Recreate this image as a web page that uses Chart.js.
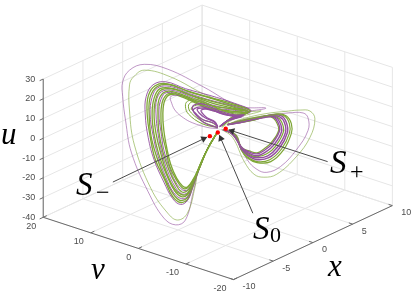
<!DOCTYPE html>
<html>
<head>
<meta charset="utf-8">
<title>Attractor</title>
<script src="https://cdn.jsdelivr.net/npm/chart.js@4"></script>
<style>
html, body { margin: 0; padding: 0; background: #fff; }
canvas { display: block; }
</style>
</head>
<body>
<canvas id="chartCanvas" width="415" height="297"></canvas>
<script>
// axis ticks of the 3D box
var xTicks = [-10, -5, 0, 5, 10];
var vTicks = [-20, -10, 0, 10, 20];
var uTicks = [-40, -30, -20, -10, 0, 10, 20, 30];

// equilibria as [x, v, u]
var equilibria = [[-1, 0, 0], [0, 0, 0], [1, 0, 0]];

// trajectory strands, as [h, w] in the view plane (origin at S0)
var purpleLeftOuter = [[-1,0],[-11,-18],[-20,-40],[-25,-61],[-33,-90],[-43,-95],[-55,-88],[-71,-61],[-88,-21],[-94,12],[-97,37],[-97,52],[-90,64],[-75,70],[-51,65],[-15,47],[22,27],[49,25],[22,19],[4,7]];
var greenLeftOuter = [[-1,0],[-11,-18],[-20,-38],[-23,-55],[-31,-83],[-41,-90],[-51,-83],[-68,-58],[-85,-13],[-90,22],[-90,49],[-86,57],[-75,64],[-48,57],[-11,38],[32,22],[44,22],[17,14],[4,5]];

var purpleLeftBand = [
  [[0,1],[-11,-18],[-20,-40],[-26,-58],[-31,-70],[-38,-74],[-46,-68],[-55,-51],[-65,-28],[-71,-5],[-74,19],[-73,37],[-66,49],[-53,52],[-33,45],[-8,38],[17,30],[34,22],[17,16],[4,7]],
  [[0,1],[-11,-18],[-20,-39],[-26,-55],[-31,-66],[-37,-68],[-45,-62],[-53,-46],[-61,-24],[-66,-3],[-69,19],[-67,36],[-61,46],[-47,47],[-29,40],[-7,33],[16,27],[32,21],[16,16],[4,7]],
  [[0,1],[-11,-18],[-19,-38],[-25,-52],[-31,-62],[-37,-63],[-44,-55],[-51,-40],[-57,-21],[-61,-1],[-63,19],[-62,35],[-55,43],[-41,42],[-24,35],[-5,28],[15,24],[30,21],[15,15],[4,7]],
  [[0,1],[-11,-18],[-19,-37],[-25,-50],[-31,-59],[-36,-59],[-43,-51],[-49,-37],[-55,-18],[-58,1],[-60,19],[-58,34],[-52,41],[-37,38],[-21,31],[-4,25],[15,23],[28,20],[14,15],[4,7]]
];
var greenLeftBand = [
  [[0,1],[-11,-18],[-20,-40],[-26,-57],[-31,-69],[-38,-72],[-46,-66],[-54,-49],[-64,-27],[-69,-4],[-72,19],[-71,37],[-64,48],[-51,50],[-32,43],[-8,36],[17,29],[33,22],[17,16],[4,7]],
  [[0,1],[-11,-18],[-20,-39],[-26,-56],[-31,-67],[-38,-70],[-45,-64],[-54,-47],[-62,-26],[-68,-4],[-70,19],[-69,36],[-62,47],[-49,49],[-30,42],[-7,35],[16,28],[33,22],[16,16],[4,7]],
  [[0,1],[-11,-18],[-20,-38],[-26,-54],[-31,-64],[-37,-66],[-44,-60],[-52,-44],[-60,-23],[-65,-2],[-67,19],[-65,35],[-59,45],[-45,45],[-27,38],[-6,32],[16,26],[31,21],[16,16],[4,7]],
  [[0,1],[-11,-18],[-20,-38],[-26,-53],[-31,-63],[-37,-64],[-44,-58],[-52,-42],[-58,-22],[-63,-1],[-65,19],[-63,35],[-57,44],[-43,44],[-25,37],[-5,30],[15,25],[31,21],[15,15],[4,7]],
  [[0,1],[-11,-18],[-19,-37],[-25,-51],[-31,-60],[-37,-61],[-43,-53],[-50,-38],[-56,-20],[-60,0],[-61,19],[-60,34],[-53,42],[-39,40],[-23,33],[-5,27],[15,24],[29,21],[15,15],[4,7]],
  [[0,1],[-11,-18],[-19,-37],[-25,-49],[-31,-57],[-36,-57],[-42,-49],[-49,-35],[-53,-17],[-57,1],[-58,19],[-56,33],[-50,40],[-35,37],[-20,30],[-4,24],[14,22],[28,20],[14,15],[4,7]],
  [[0,1],[-11,-18],[-19,-36],[-25,-48],[-31,-56],[-36,-55],[-42,-47],[-48,-33],[-52,-16],[-55,2],[-56,19],[-54,33],[-48,39],[-33,35],[-18,28],[-3,22],[14,21],[27,20],[14,15],[4,7]]
];

var purpleSpiral = [
  [[0,5],[-14,10],[-24,20],[-26,26],[-22,29],[-14,29],[2,22],[17,18],[27,18],[13,14],[2,6]],
  [[0,6],[-5,10],[-15,13],[-22,19],[-25,23],[-20,26],[-14,26],[3,20],[16,17],[26,17],[12,13],[2,6]],
  [[0,6],[-4,11],[-13,15],[-19,20],[-21,24],[-16,25],[-8,24],[6,19],[18,16],[24,16],[10,12],[2,6]],
  [[0,6],[-3,11],[-11,15],[-16,20],[-17,23],[-12,24],[-4,22],[8,18],[20,16],[8,11],[2,6]],
  [[-38,38],[-48,37],[-47,30],[-43,22],[-35,15],[-26,10],[-10,5],[0,4]]
];
var greenSpiral = [
  [[0,5],[-16,9],[-30,19],[-33,27],[-31,32],[-21,34],[0,25],[17,20],[30,20],[14,15],[2,6]],
  [[0,5],[-15,11],[-27,20],[-30,27],[-27,31],[-18,32],[1,24],[17,19],[28,19],[13,14],[2,6]],
  [[0,6],[-6,10],[-17,14],[-24,21],[-27,25],[-22,28],[-16,28],[2,21],[16,18],[26,18],[12,13],[2,6]]
];

var purpleRightOuter = [[4,3],[17,-3],[30,-28],[40,-38],[50,-41],[64,-35],[80,-18],[92,2],[92,15],[87,20],[72,20],[47,17],[22,12],[10,8]];
var greenRightOuter = [[4,3],[15,-5],[27,-30],[37,-43],[47,-46],[60,-43],[80,-25],[94,-5],[99,14],[94,22],[84,23],[72,22],[47,19],[22,13],[10,8]];

var purpleRightBand = [
  [[6,3],[18,-3],[24,-17],[31,-24],[40,-28],[52,-26],[63,-16],[71,0],[70,10],[65,17],[55,18],[42,15],[22,11],[10,8]],
  [[6,3],[17,-3],[24,-17],[31,-23],[40,-26],[51,-24],[61,-15],[69,0],[68,10],[63,16],[53,17],[42,15],[22,11],[10,8]],
  [[6,3],[16,-2],[25,-17],[31,-21],[40,-24],[49,-20],[57,-13],[65,1],[63,11],[58,16],[48,16],[41,14],[22,10],[10,8]],
  [[6,3],[15,-2],[25,-16],[32,-20],[40,-22],[48,-18],[55,-12],[63,2],[61,11],[56,16],[46,15],[40,14],[22,10],[10,8]]
];
var greenRightBand = [
  [[6,3],[19,-3],[24,-18],[30,-26],[40,-31],[54,-30],[67,-18],[75,-1],[75,9],[70,17],[60,19],[42,15],[22,11],[10,8]],
  [[6,3],[18,-3],[24,-18],[30,-25],[40,-30],[53,-28],[65,-17],[73,-1],[73,9],[68,17],[58,18],[42,16],[22,12],[10,8]],
  [[6,3],[17,-3],[25,-17],[31,-22],[40,-25],[50,-22],[59,-14],[67,1],[65,11],[60,16],[50,17],[41,15],[22,11],[10,8]],
  [[6,3],[15,-2],[25,-16],[32,-19],[40,-21],[47,-17],[54,-11],[62,2],[59,12],[54,16],[44,15],[38,13],[22,10],[10,8]]
];

// callout arrows: [tailH, tailW, tipH, tipW]
var arrows = [[-107,-51,-11.3,-5], [35.7,-83,1.7,-3], [112,-30,11.3,2.7]];

var purple = "#93509f";
var green = "#7ea636";

// view of the box: pixels per data unit along each axis
function project(x, v, u) {
    return { x: 8.1 * x - 4.85 * v, y: 3.8 * x + 1.6 * v + 2.03 * u };
}

var layers = [];

function addLine(points, color, width, tension) {
    layers.push({
        data: points,
        showLine: true,
        borderColor: color,
        borderWidth: width,
        pointRadius: 0,
        tension: tension || 0,
        clip: false
    });
}

function addSegment(a, b, color, width) {
    addLine([project(a[0], a[1], a[2]), project(b[0], b[1], b[2])], color, width);
}

function addStrand(strand, color, width) {
    var pts = [];
    for (var i = 0; i < strand.length; i++) {
        pts.push({ x: strand[i][0], y: strand[i][1] });
    }
    addLine(pts, color, width, 0.4);
}

var gridColor = "#e6e6e6";
var axisColor = "#6a6a6a";
var i;

for (i = 0; i < uTicks.length; i++) {
    addSegment([-10, 20, uTicks[i]], [10, 20, uTicks[i]], gridColor, 1);
    addSegment([10, 20, uTicks[i]], [10, -20, uTicks[i]], gridColor, 1);
}
for (i = 0; i < xTicks.length; i++) {
    addSegment([xTicks[i], 20, -40], [xTicks[i], 20, 30], gridColor, 1);
    addSegment([xTicks[i], 20, -40], [xTicks[i], -20, -40], gridColor, 1);
}
for (i = 0; i < vTicks.length; i++) {
    addSegment([10, vTicks[i], -40], [10, vTicks[i], 30], gridColor, 1);
    addSegment([-10, vTicks[i], -40], [10, vTicks[i], -40], gridColor, 1);
}

addSegment([-10, 20, -40], [-10, 20, 30], axisColor, 1);
addSegment([-10, 20, -40], [-10, -20, -40], axisColor, 1);
addSegment([-10, -20, -40], [10, -20, -40], axisColor, 1);

for (i = 0; i < uTicks.length; i++) {
    addSegment([-10, 20, uTicks[i]], [-10.45, 20, uTicks[i]], axisColor, 1);
}
for (i = 0; i < vTicks.length; i++) {
    addSegment([-10, vTicks[i], -40], [-9.55, vTicks[i], -40], axisColor, 1);
}
for (i = 0; i < xTicks.length; i++) {
    addSegment([xTicks[i], -20, -40], [xTicks[i], -19.2, -40], axisColor, 1);
}

addStrand(purpleLeftOuter, purple, 0.6);
addStrand(greenLeftOuter, green, 0.6);
addStrand(purpleRightOuter, purple, 0.6);
addStrand(greenRightOuter, green, 0.6);
for (i = 0; i < 4; i++) {
    addStrand(greenRightBand[i], green, 1.2);
    addStrand(purpleRightBand[i], purple, 1.4);
}
for (i = 0; i < 7; i++) {
    addStrand(greenLeftBand[i], green, 1.3);
    if (purpleLeftBand[i]) addStrand(purpleLeftBand[i], purple, 0.9);
}
greenSpiral.forEach(function (s) { addStrand(s, green, 1); });
purpleSpiral.forEach(function (s, n) { addStrand(s, purple, n < 4 ? 1.2 : 0.6); });

// red equilibrium points
layers.push({
    data: equilibria.map(function (p) { return project(p[0], p[1], p[2]); }),
    showLine: false,
    pointRadius: 2.2,
    pointBackgroundColor: "#ff0000",
    pointBorderWidth: 0,
    clip: false
});

// callout arrows, the head is a rotated triangle point
arrows.forEach(function (a) {
    var dh = a[2] - a[0], dw = a[3] - a[1];
    var len = Math.sqrt(dh * dh + dw * dw);
    addLine([{ x: a[0], y: a[1] }, { x: a[2], y: a[3] }], "#4a4a4a", 1);
    layers.push({
        data: [{ x: a[2] - dh / len * 3.5, y: a[3] - dw / len * 3.5 }],
        showLine: false,
        pointStyle: "triangle",
        pointRadius: 4,
        pointRotation: Math.atan2(dh, dw) * 180 / Math.PI,
        pointBackgroundColor: "#333333",
        pointBorderWidth: 0,
        clip: false
    });
});

// tick labels and the math labels
var textPlugin = {
    id: "boxText",
    afterDraw: function (chart) {
        var ctx = chart.ctx;
        var sx = chart.scales.x, sy = chart.scales.y;
        function put(str, p, dx, dy, font, align, color) {
            ctx.font = font;
            ctx.textAlign = align;
            ctx.textBaseline = "middle";
            ctx.fillStyle = color;
            ctx.fillText(str, sx.getPixelForValue(p.x) + dx, sy.getPixelForValue(p.y) + dy);
        }
        var tickFont = "9px 'Liberation Sans'";
        var tickColor = "#4d4d4d";
        ctx.save();
        uTicks.forEach(function (t) { put(String(t), project(-10, 20, t), -8, 0, tickFont, "right", tickColor); });
        vTicks.forEach(function (t) { put(String(t), project(-10, t, -40), -7, 9, tickFont, "right", tickColor); });
        xTicks.forEach(function (t) { put(String(t), project(t, -20, -40), 9, 7, tickFont, "left", tickColor); });

        var mathFont = "italic 33px 'Liberation Serif'";
        var varFont = "italic 31px 'Liberation Serif'";
        var subFont = "24px 'Liberation Serif'";
        ctx.textBaseline = "alphabetic";
        function label(str, px, py, font) {
            ctx.font = font;
            ctx.textAlign = "left";
            ctx.fillStyle = "#000";
            ctx.fillText(str, px, py);
        }
        label("u", 1, 144, varFont);
        label("v", 91, 279, varFont);
        label("x", 328, 276, varFont);
        label("S", 76, 195, mathFont);
        label("\u2212", 96, 200, subFont);
        label("S", 330, 173, mathFont);
        label("+", 350, 179, subFont);
        label("S", 253, 239, mathFont);
        label("0", 270, 242, "22px 'Liberation Serif'");
        ctx.restore();
    }
};

new Chart(document.getElementById("chartCanvas").getContext("2d"), {
    type: "scatter",
    data: { datasets: layers.reverse() },
    options: {
        responsive: false,
        animation: false,
        layout: { padding: 0 },
        plugins: { legend: { display: false }, tooltip: { enabled: false } },
        scales: {
            x: { type: "linear", min: -218, max: 197, display: false },
            y: { type: "linear", min: -165, max: 132, display: false }
        }
    },
    plugins: [textPlugin]
});
</script>
</body>
</html>
